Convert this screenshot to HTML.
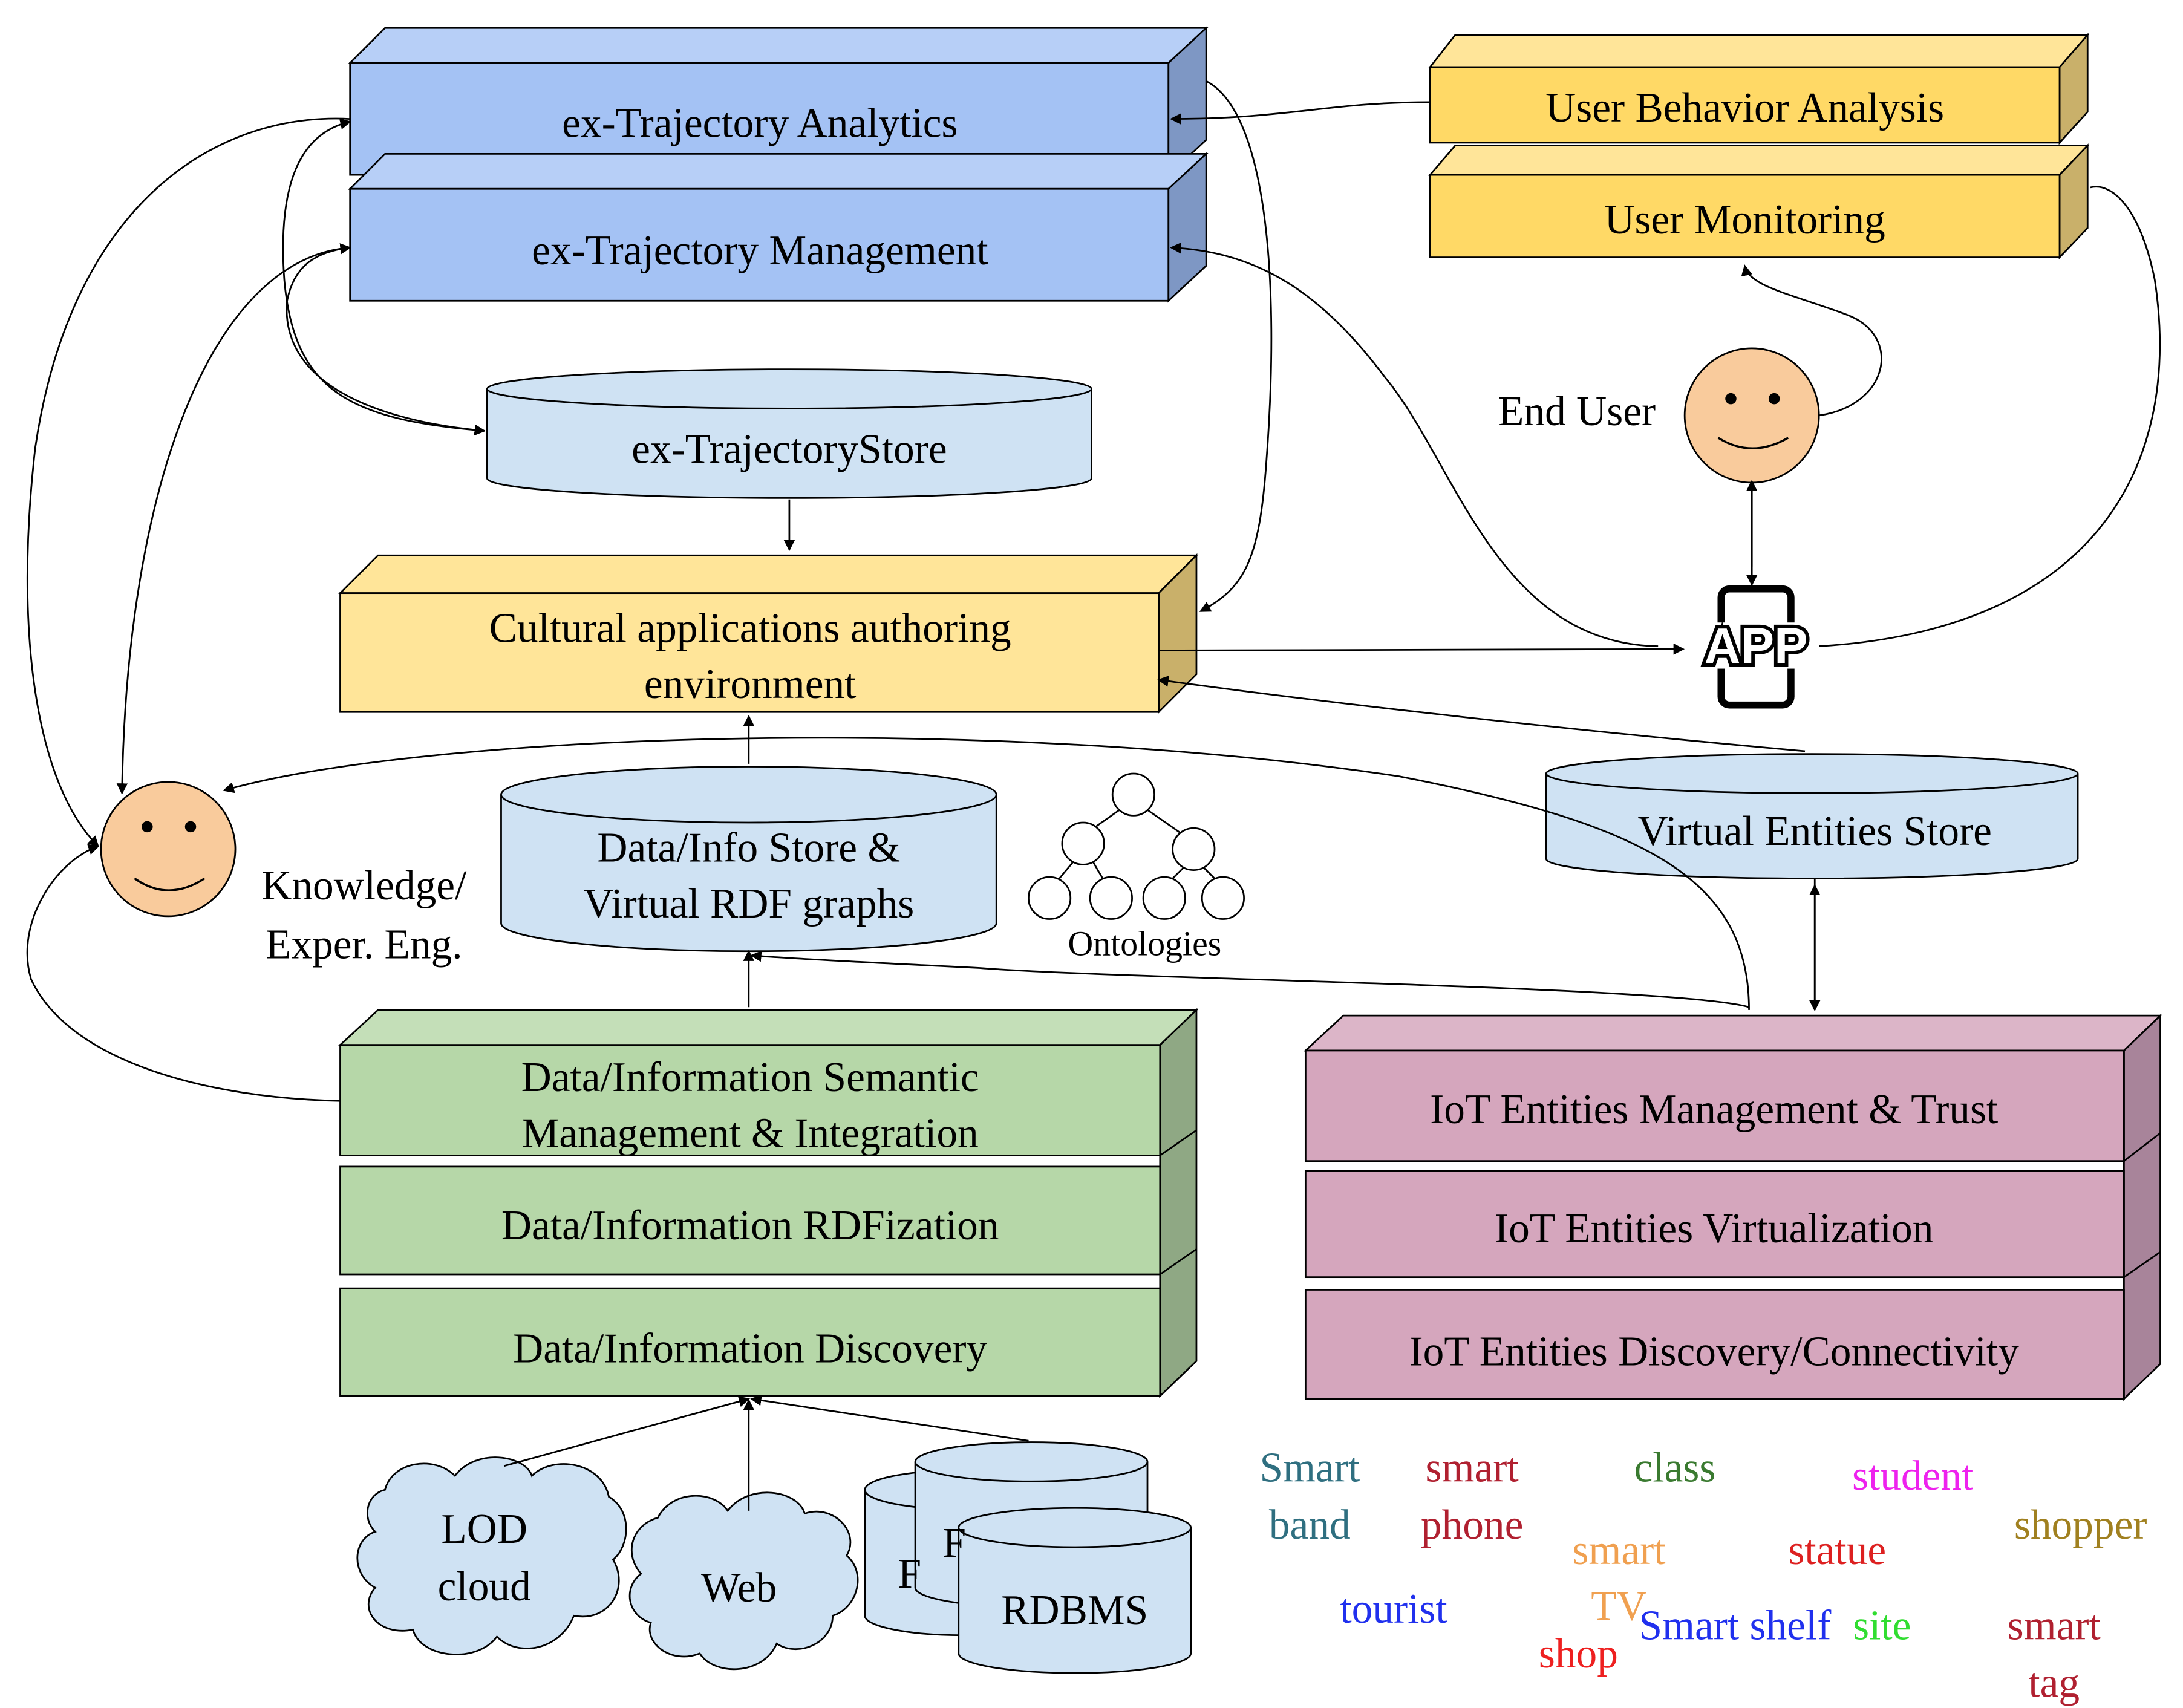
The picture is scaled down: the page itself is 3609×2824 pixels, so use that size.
<!DOCTYPE html>
<html><head><meta charset="utf-8"><style>html,body{margin:0;padding:0;background:#fff}svg{display:block}text{font-family:"Liberation Serif",serif}</style></head><body>
<svg width="3609" height="2824" viewBox="0 0 1560 1221" xmlns="http://www.w3.org/2000/svg">
<defs><marker id="a" markerWidth="8" markerHeight="8" refX="7" refY="4" orient="auto-start-reverse" markerUnits="userSpaceOnUse"><path d="M0,0 L8,4 L0,8 Z" fill="#000"/></marker></defs>
<rect width="1560" height="1221" fill="#fff"/>
<g stroke="#000" stroke-width="1.2">
<path d="M250,45 L275,20 L862,20 L835,45 Z" fill="#b7cff7"/>
<path d="M835,45 L862,20 L862,100 L835,125 Z" fill="#7e97c4"/>
<rect x="250" y="45" width="585" height="80" fill="#a4c2f4"/>
<path d="M250,135 L275,110 L862,110 L835,135 Z" fill="#b7cff7"/>
<path d="M835,135 L862,110 L862,190 L835,215 Z" fill="#7e97c4"/>
<rect x="250" y="135" width="585" height="80" fill="#a4c2f4"/>
<path d="M1022,48 L1040,25 L1492,25 L1472,48 Z" fill="#ffe599"/>
<path d="M1472,48 L1492,25 L1492,80 L1472,102 Z" fill="#c9b06a"/>
<rect x="1022" y="48" width="450" height="54" fill="#ffd966"/>
<path d="M1022,125 L1040,104 L1492,104 L1472,125 Z" fill="#ffe599"/>
<path d="M1472,125 L1492,104 L1492,163 L1472,184 Z" fill="#c9b06a"/>
<rect x="1022" y="125" width="450" height="59" fill="#ffd966"/>
<path d="M243,424 L270,397 L855,397 L828,424 Z" fill="#ffe599"/>
<path d="M828,424 L855,397 L855,482 L828,509 Z" fill="#c9b06a"/>
<rect x="243" y="424" width="585" height="85" fill="#ffe599"/>
<path d="M243,747 L270,722 L855,722 L829,747 Z" fill="#c4dfb8"/>
<path d="M829,747 L855,722 L855,973 L829,998 Z" fill="#8fa884"/>
<rect x="243" y="747" width="586" height="79" fill="#b6d7a8"/>
<path d="M829,826 L855,808 M829,911 L855,893" fill="none"/>
<rect x="243" y="834" width="586" height="77" fill="#b6d7a8"/>
<rect x="243" y="921" width="586" height="77" fill="#b6d7a8"/>
<path d="M933,751 L960,726 L1544,726 L1518,751 Z" fill="#dcb5c8"/>
<path d="M1518,751 L1544,726 L1544,975 L1518,1000 Z" fill="#a8849a"/>
<rect x="933" y="751" width="585" height="79" fill="#d5a6bd"/>
<path d="M1518,830 L1544,810 M1518,913 L1544,895" fill="none"/>
<rect x="933" y="837" width="585" height="76" fill="#d5a6bd"/>
<rect x="933" y="922" width="585" height="78" fill="#d5a6bd"/>
<path d="M348,278 L348,342 A216,14 0 0 0 780,342 L780,278" fill="#cfe2f3"/>
<ellipse cx="564" cy="278" rx="216" ry="14" fill="#cfe2f3"/>
<path d="M358,568 L358,660 A177,20 0 0 0 712,660 L712,568" fill="#cfe2f3"/>
<ellipse cx="535" cy="568" rx="177" ry="20" fill="#cfe2f3"/>
<path d="M1105,553 L1105,614 A190,14 0 0 0 1485,614 L1485,553" fill="#cfe2f3"/>
<ellipse cx="1295" cy="553" rx="190" ry="14" fill="#cfe2f3"/>
<path d="M618,1065 L618,1155 A70,14 0 0 0 758,1155 L758,1065" fill="#cfe2f3"/>
<ellipse cx="688" cy="1065" rx="70" ry="14" fill="#cfe2f3"/>
<path d="M654,1045 L654,1135 A83,14 0 0 0 820,1135 L820,1045" fill="#cfe2f3"/>
<ellipse cx="737" cy="1045" rx="83" ry="14" fill="#cfe2f3"/>
<path d="M685,1092 L685,1182 A83,14 0 0 0 851,1182 L851,1092" fill="#cfe2f3"/>
<ellipse cx="768" cy="1092" rx="83" ry="14" fill="#cfe2f3"/>
<path d="M275,1065 C280,1045 310,1040 325,1055 C340,1035 375,1040 380,1055 C395,1040 430,1045 435,1070 C452,1080 450,1105 438,1115 C450,1135 435,1160 410,1155 C400,1180 370,1185 355,1170 C340,1190 300,1185 295,1165 C270,1170 255,1150 268,1135 C250,1125 252,1100 268,1095 C258,1085 262,1068 275,1065 Z" fill="#cfe2f3"/>
<path d="M470,1085 C480,1065 510,1065 520,1080 C535,1060 570,1065 575,1082 C595,1075 615,1095 605,1112 C620,1125 612,1150 595,1155 C595,1175 570,1185 555,1175 C545,1198 510,1198 500,1182 C480,1190 460,1175 465,1160 C448,1155 445,1135 458,1125 C445,1110 452,1090 470,1085 Z" fill="#cfe2f3"/>
<circle cx="120" cy="607" r="48" fill="#f9cb9c"/>
<circle cx="1252" cy="297" r="48" fill="#f9cb9c"/>
<g fill="#fff"><circle cx="810" cy="568" r="15"/><circle cx="774" cy="603" r="15"/><circle cx="853" cy="607" r="15"/><circle cx="750" cy="642" r="15"/><circle cx="794" cy="642" r="15"/><circle cx="832" cy="642" r="15"/><circle cx="874" cy="642" r="15"/></g>
<path d="M800,579 L783,591 M820,579 L843,595 M767,616 L757,628 M781,616 L788,628 M846,620 L838,628 M860,620 L868,628" fill="none"/>
</g>
<g fill="#000"><circle cx="105" cy="591" r="4"/><circle cx="136" cy="591" r="4"/><circle cx="1237" cy="285" r="4"/><circle cx="1268" cy="285" r="4"/></g>
<path d="M96,628 Q120,645 146,628 M1228,313 Q1252,328 1278,313" stroke="#000" stroke-width="1.5" fill="none"/>
<rect x="1230" y="421" width="50" height="83" rx="6" fill="none" stroke="#000" stroke-width="5"/>
<rect x="1205" y="445" width="100" height="33" fill="#fff"/>
<text x="1255" y="474" text-anchor="middle" style="font-family:'Liberation Sans',sans-serif;font-weight:bold;font-size:36px" fill="#fff" stroke="#000" stroke-width="5" paint-order="stroke">APP</text>
<g stroke="#000" stroke-width="1.2" fill="none">
<path d="M1022,73 C950,73 920,85 837,85" marker-end="url(#a)"/>
<path d="M862,58 C905,80 915,200 905,330 C900,400 890,420 858,437" marker-end="url(#a)"/>
<path d="M1185,462 C1070,460 1040,330 990,270 C945,210 900,180 837,177" marker-end="url(#a)"/>
<path d="M828,465 L1203,464" marker-end="url(#a)"/>
<path d="M1290,537 C1100,520 930,500 828,486" marker-end="url(#a)"/>
<path d="M1300,462 C1500,450 1560,330 1540,200 C1530,150 1510,130 1494,134"/>
<path d="M1300,297 C1350,290 1360,240 1320,225 C1280,210 1250,205 1247,190" marker-end="url(#a)"/>
<path d="M1252,405 L1252,344" marker-end="url(#a)"/>
<path d="M1252,349 L1252,418" marker-end="url(#a)"/>
<path d="M1297,720 L1297,633" marker-end="url(#a)"/>
<path d="M1297,628 L1297,722" marker-end="url(#a)"/>
<path d="M564,357 L564,393" marker-end="url(#a)"/>
<path d="M535,546 L535,512" marker-end="url(#a)"/>
<path d="M535,720 L535,680" marker-end="url(#a)"/>
<path d="M1250,720 C1200,705 800,700 700,692 C620,688 560,685 537,683" marker-end="url(#a)"/>
<path d="M1250,722 C1250,630 1180,590 1000,555 C700,510 300,525 160,565" marker-end="url(#a)"/>
<path d="M243,787 C150,785 50,760 22,700 C10,660 40,615 70,605" marker-end="url(#a)"/>
<path d="M250,85 C150,80 50,150 25,320 C10,450 25,560 70,605" marker-end="url(#a)"/>
<path d="M250,177 C150,185 90,350 87,567" marker-end="url(#a)"/>
<path d="M250,87 C215,95 198,130 203,200 C210,280 250,300 346,308" marker-start="url(#a)" marker-end="url(#a)"/>
<path d="M250,177 C225,180 210,190 205,215 C200,270 260,300 346,308" marker-start="url(#a)" marker-end="url(#a)"/>
<path d="M360,1048 L535,1000" marker-end="url(#a)"/>
<path d="M535,1080 L535,1001" marker-end="url(#a)"/>
<path d="M735,1030 L537,1000" marker-end="url(#a)"/>
</g>
<g font-size="30" text-anchor="middle" fill="#000">
<text x="543" y="98">ex-Trajectory Analytics</text>
<text x="543" y="189">ex-Trajectory  Management</text>
<text x="1247" y="87">User Behavior Analysis</text>
<text x="1247" y="167">User Monitoring</text>
<text x="564" y="331">ex-TrajectoryStore</text>
<text x="536" y="459">Cultural applications authoring</text>
<text x="536" y="499">environment</text>
<text x="535" y="616">Data/Info Store &amp;</text>
<text x="535" y="656">Virtual RDF graphs</text>
<text x="1297" y="604">Virtual Entities Store</text>
<text x="536" y="780">Data/Information Semantic</text>
<text x="536" y="820">Management &amp; Integration</text>
<text x="536" y="886">Data/Information RDFization</text>
<text x="536" y="974">Data/Information Discovery</text>
<text x="1225" y="803">IoT Entities Management &amp; Trust</text>
<text x="1225" y="888">IoT Entities Virtualization</text>
<text x="1225" y="976">IoT Entities Discovery/Connectivity</text>
<text x="1127" y="304">End User</text>
<text x="260" y="643">Knowledge/</text>
<text x="260" y="685">Exper. Eng.</text>
<text x="346" y="1103">LOD</text>
<text x="346" y="1144">cloud</text>
<text x="528" y="1145">Web</text>
<text x="768" y="1161">RDBMS</text>
<text x="650" y="1135">F</text>
<text x="682" y="1113">F</text>
<text x="818" y="683" font-size="25">Ontologies</text>
</g>
<g font-size="30" text-anchor="middle">
<text x="936" y="1059" fill="#2f6f80">Smart</text><text x="936" y="1100" fill="#2f6f80">band</text>
<text x="1052" y="1059" fill="#b02030">smart</text><text x="1052" y="1100" fill="#b02030">phone</text>
<text x="1197" y="1059" fill="#3a7a30">class</text>
<text x="1367" y="1065" fill="#ee22ee">student</text>
<text x="1487" y="1100" fill="#a08020">shopper</text>
<text x="1157" y="1118" fill="#f0a050">smart</text><text x="1157" y="1158" fill="#f0a050">TV</text>
<text x="1313" y="1118" fill="#dd2020">statue</text>
<text x="996" y="1160" fill="#2030ee">tourist</text>
<text x="1128" y="1192" fill="#ee2020">shop</text>
<text x="1240" y="1172" fill="#2030ee">Smart shelf</text>
<text x="1345" y="1172" fill="#30dd30">site</text>
<text x="1468" y="1172" fill="#b02030">smart</text><text x="1468" y="1213" fill="#b02030">tag</text>
</g>
</svg>
</body></html>
